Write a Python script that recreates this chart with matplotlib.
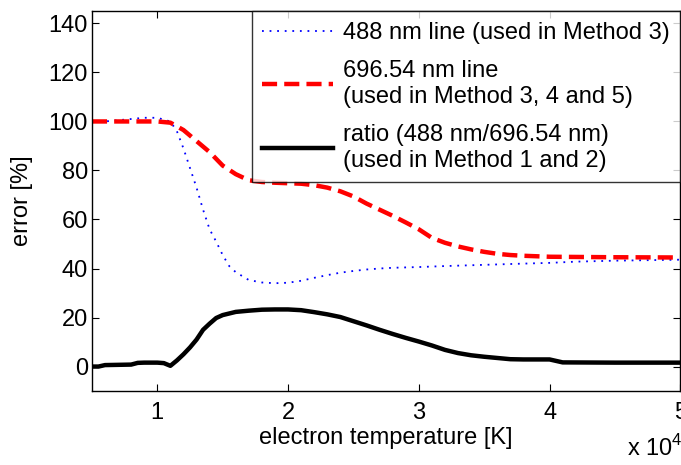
import matplotlib
matplotlib.use("Agg")
import matplotlib.pyplot as plt

plt.rcParams["font.family"] = ["Liberation Sans", "DejaVu Sans"]
plt.rcParams["mathtext.fontset"] = "custom"
plt.rcParams["mathtext.rm"] = "Liberation Sans"

# electron temperature [K] and error [%] for each curve
t_488 = [5000, 6000, 7000, 8000, 9000, 10000, 11000, 11500, 12000, 12500, 13000,
         13500, 14000, 14500, 15000, 15500, 16000, 17000, 18000, 19000, 20000,
         21000, 22000, 23000, 24000, 25000, 26000, 27000, 28000, 30000, 32000,
         35000, 38000, 40000, 42000, 45000, 50000]
err_488 = [100, 100, 100.5, 101, 101.5, 101.5, 100, 96, 89, 81, 73,
           64, 56, 51, 45.5, 41, 38.5, 35.3, 34.3, 34, 34.2,
           35, 36.2, 37.3, 38.3, 39, 39.6, 40, 40.3, 40.6, 41,
           41.5, 42, 42.3, 42.8, 43.2, 43.6]

t_696 = [5000, 10000, 11000, 12000, 13000, 14000, 15000, 16000, 17000, 18000,
         19000, 20000, 21000, 22000, 23000, 24000, 25000, 26000, 27000, 28000,
         29000, 30000, 31000, 32000, 33000, 34000, 35000, 36000, 37000, 38000,
         39000, 40000, 45000, 50000]
err_696 = [100, 100, 99.5, 96.5, 92, 87.5, 82, 78.5, 76, 75.3,
           75, 74.8, 74.6, 74, 73, 71.5, 69.4, 66.5, 64, 61.5,
           58.8, 56, 52.5, 50.5, 49, 47.8, 46.8, 46, 45.5, 45.2,
           45, 44.8, 44.6, 44.5]

t_ratio = [5000, 5500, 6000, 7000, 8000, 8500, 9000, 10000, 10500, 11000, 11500,
           12000, 12500, 13000, 13500, 14000, 14500, 15000, 16000, 17000, 18000,
           19000, 20000, 21000, 22000, 23000, 24000, 25000, 26000, 27000, 28000,
           29000, 30000, 31000, 32000, 33000, 34000, 35000, 36000, 37000, 38000,
           40000, 41000, 45000, 50000]
err_ratio = [0, 0, 0.6, 0.7, 0.8, 1.5, 1.6, 1.6, 1.4, 0.3, 2.5,
             5, 7.8, 11, 15, 17.5, 19.8, 21, 22.3, 22.8, 23.2,
             23.3, 23.3, 23, 22.2, 21.3, 20.2, 18.5, 16.8, 15, 13.3,
             11.7, 10.2, 8.6, 6.8, 5.5, 4.6, 4, 3.5, 3, 2.9,
             2.9, 1.7, 1.6, 1.6]

x_ticks = [10000, 20000, 30000, 40000, 50000]
x_tick_labels = ["1", "2", "3", "4", "5"]
y_ticks = [0, 20, 40, 60, 80, 100, 120, 140]

labels = [
    "488 nm line (used in Method 3)",
    "696.54 nm line\n(used in Method 3, 4 and 5)",
    "ratio (488 nm/696.54 nm)\n(used in Method 1 and 2)",
]

fs = 17
fig = plt.figure(figsize=(6.81, 4.65), dpi=100)
ax = fig.add_axes([0.135, 0.159, 0.864, 0.817])

ax.plot(t_488, err_488, color="#0000ff", lw=1.3, dashes=(1, 3.2), label=labels[0])
ax.plot(t_696, err_696, color="#ff0000", lw=3.2, dashes=(3.4, 1.6),
        dash_capstyle="butt", label=labels[1])
ax.plot(t_ratio, err_ratio, color="black", lw=3.2, label=labels[2])

ax.set_xlim(5000, 50000)
ax.set_ylim(-10, 145)
ax.set_xticks(x_ticks)
ax.set_xticklabels(x_tick_labels)
ax.set_yticks(y_ticks)
ax.tick_params(direction="in", length=5, width=0.8, top=True, right=True,
               labelsize=fs)
ax.tick_params(axis="x", pad=8)
ax.tick_params(axis="y", pad=3)
for s in ax.spines.values():
    s.set_linewidth(1.0)

ax.set_xlabel("electron temperature [K]", fontsize=fs, labelpad=2)
ax.set_ylabel("error [%]", fontsize=fs, labelpad=11)

fig.text(0.921, 0.008, r"x 10$^4$", fontsize=fs, ha="left", va="bottom")

leg = ax.legend(loc="upper right", fontsize=fs, frameon=True, fancybox=False,
                borderaxespad=0, handlelength=3.0, handletextpad=0.42,
                labelspacing=0.7, borderpad=0.45)
leg.get_frame().set_edgecolor("black")
leg.get_frame().set_linewidth(1.0)

fig.savefig("out.png", dpi=100)
